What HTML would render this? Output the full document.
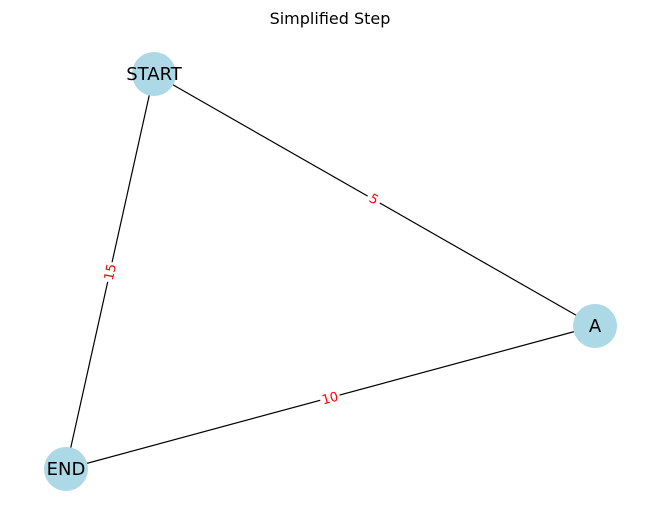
<!DOCTYPE html>
<html><head><style>body{margin:0;background:#fff}svg{display:block}</style></head>
<body>
<svg width="660" height="522" xmlns="http://www.w3.org/2000/svg" font-family="DejaVu Sans, Liberation Sans, sans-serif">
<rect width="660" height="522" fill="#fff"/>
<text x="330" y="24" font-size="16" text-anchor="middle" fill="#000">Simplified Step</text>
<g stroke="#000" stroke-width="1.2">
<line x1="154" y1="74" x2="595" y2="326"/>
<line x1="154" y1="74" x2="66" y2="469"/>
<line x1="66" y1="469" x2="595" y2="326"/>
</g>
<g font-size="13" fill="#f00" text-anchor="middle">
<g transform="translate(374,199) rotate(29.7)"><rect x="-7" y="-7" width="14" height="14" fill="#fff"/><text y="4.5">5</text></g>
<g transform="translate(110,272) rotate(-77.4)"><rect x="-10" y="-7" width="20" height="14" fill="#fff"/><text y="4.5">15</text></g>
<g transform="translate(330,398) rotate(-15.1)"><rect x="-10" y="-7" width="20" height="14" fill="#fff"/><text y="4.5">10</text></g>
</g>
<g fill="#add8e6">
<circle cx="154" cy="74" r="22"/>
<circle cx="595" cy="326" r="22"/>
<circle cx="66" cy="469" r="22"/>
</g>
<g font-size="18" text-anchor="middle" fill="#000">
<text x="154" y="80">START</text>
<text x="595" y="332">A</text>
<text x="66" y="475">END</text>
</g>
</svg>
</body></html>
